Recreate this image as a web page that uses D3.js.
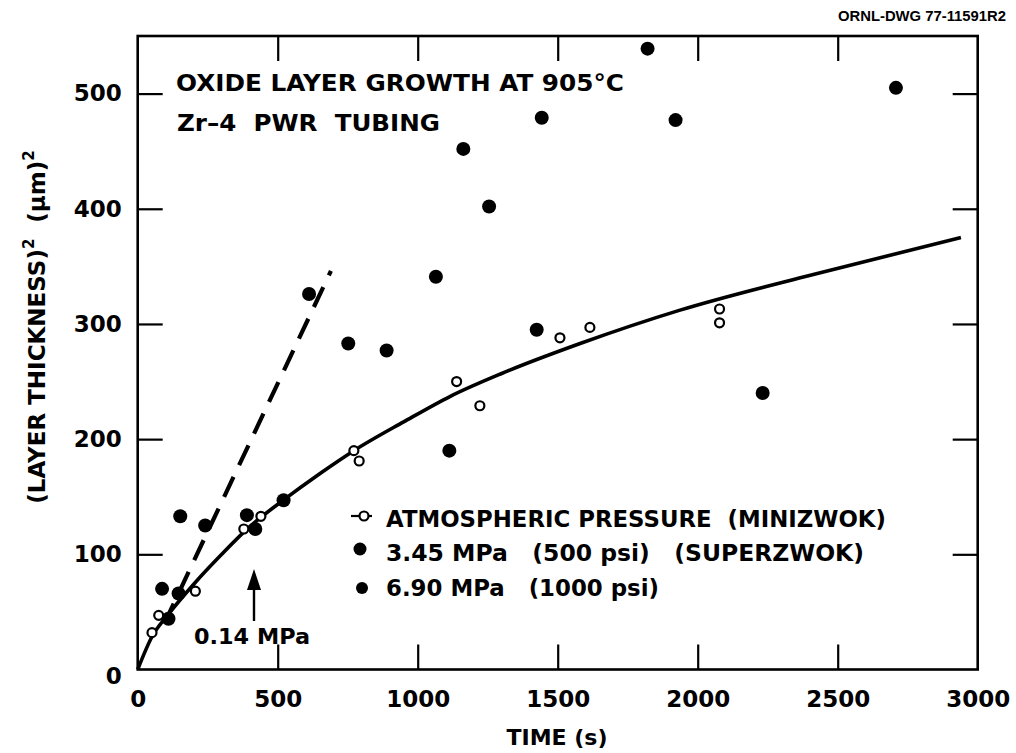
<!DOCTYPE html>
<html><head><meta charset="utf-8">
<script src="https://cdn.jsdelivr.net/npm/d3@7/dist/d3.min.js"></script>
<style>
html,body{margin:0;padding:0;background:#fff;}
svg text{font-family:"DejaVu Sans",sans-serif;font-weight:bold;fill:#000;}
</style></head>
<body><svg id="chart" width="1016" height="753"></svg>
<script>
// ---- data ----
const xTicks = [0, 500, 1000, 1500, 2000, 2500, 3000];
const yTicks = [0, 100, 200, 300, 400, 500];
// atmospheric pressure (MINIZWOK) — open circles: [time s, (thickness)^2 µm^2]
const atmosphericPoints = [
  [51, 32], [75, 47], [206, 68], [379, 122], [440, 133], [772, 190], [791, 181],
  [1139, 250], [1222, 229], [1508, 288], [1615, 297], [2078, 313], [2078, 301]
];
// 3.45 / 6.90 MPa (SUPERZWOK) — filled circles
const pressurizedPoints = [
  [87, 70], [110, 44], [146, 66], [152, 133], [241, 125], [390, 134], [420, 122],
  [521, 147], [612, 326], [752, 283], [889, 277], [1065, 341], [1113, 190],
  [1163, 452], [1255, 402], [1425, 295], [1443, 479], [1821, 539], [1921, 477],
  [2232, 240], [2708, 505]
];
// fitted solid curve (atmospheric)
const fitCurve = [
  [0, 0], [50, 28], [110, 48], [200, 74], [300, 100], [400, 124], [520, 147],
  [650, 170], [772, 190], [950, 215], [1115, 237], [1300, 257], [1580, 283],
  [1937, 312], [2413, 343], [2940, 375]
];
// dashed line (0.14 MPa trend)
const dashedLine = [[95, 40], [690, 346]];
const legendLabels = [
  "ATMOSPHERIC PRESSURE  (MINIZWOK)",
  "3.45 MPa   (500 psi)   (SUPERZWOK)",
  "6.90 MPa   (1000 psi)"
];

// ---- layout ----
const svg = d3.select("#chart");
const L = 137.7, R = 977.7, T = 36, B = 669.5;
const x = d3.scaleLinear().domain([0, 3000]).range([L, R]);
const y = d3.scaleLinear().domain([0, 550]).range([B, T]);
const tickLen = 25;

// axes (ticks inward on all four sides)
const gB = svg.append("g").attr("transform", `translate(0,${B})`)
  .call(d3.axisBottom(x).tickValues(xTicks).tickSize(-tickLen).tickPadding(21).tickFormat(d3.format("d")));
const gT = svg.append("g").attr("transform", `translate(0,${T})`)
  .call(d3.axisTop(x).tickValues(xTicks).tickSize(-tickLen).tickFormat(""));
const gL = svg.append("g").attr("transform", `translate(${L},0)`)
  .call(d3.axisLeft(y).tickValues(yTicks).tickSize(-tickLen).tickPadding(16).tickFormat(d3.format("d")));
const gR = svg.append("g").attr("transform", `translate(${R},0)`)
  .call(d3.axisRight(y).tickValues(yTicks).tickSize(-tickLen).tickFormat(""));
[gB, gT, gL, gR].forEach(g => {
  g.select(".domain").remove();
  g.selectAll(".tick line").attr("stroke", "#000").attr("stroke-width", 2.2);
  g.selectAll(".tick text").attr("font-size", 23).attr("fill", "#000")
    .style("font-family", '"DejaVu Sans",sans-serif').style("font-weight", "bold");
});
// no tick marks at the corners
gB.selectAll(".tick").filter(d => d === 0 || d === 3000).select("line").remove();
gT.selectAll(".tick").filter(d => d === 0 || d === 3000).remove();
gL.selectAll(".tick").filter(d => d === 0).select("line").remove();
gR.selectAll(".tick").filter(d => d === 0).remove();
gL.selectAll(".tick").filter(d => d === 0).select("text").attr("dy", "0.62em");

// frame
svg.append("rect").attr("x", L).attr("y", T).attr("width", R - L).attr("height", B - T)
  .attr("fill", "none").attr("stroke", "#000").attr("stroke-width", 2.6);

// solid fit curve
const line = d3.line().x(d => x(d[0])).y(d => y(d[1])).curve(d3.curveMonotoneX);
svg.append("path").datum(fitCurve).attr("d", line)
  .attr("fill", "none").attr("stroke", "#000").attr("stroke-width", 3.6);

// dashed line
svg.append("path").datum(dashedLine).attr("d", d3.line().x(d => x(d[0])).y(d => y(d[1])))
  .attr("fill", "none").attr("stroke", "#000").attr("stroke-width", 4.2)
  .attr("stroke-dasharray", "22,13");

// filled points
svg.append("g").selectAll("circle").data(pressurizedPoints).join("circle")
  .attr("cx", d => x(d[0])).attr("cy", d => y(d[1])).attr("r", 7).attr("fill", "#000");

// open points
svg.append("g").selectAll("circle").data(atmosphericPoints).join("circle")
  .attr("cx", d => x(d[0])).attr("cy", d => y(d[1])).attr("r", 4.5)
  .attr("fill", "#fff").attr("stroke", "#000").attr("stroke-width", 2.2);

// titles inside plot
svg.append("text").attr("x", 176).attr("y", 91).attr("font-size", 23)
  .attr("textLength", 448).attr("lengthAdjust", "spacingAndGlyphs")
  .text("OXIDE LAYER GROWTH AT 905°C");
svg.append("text").attr("x", 177).attr("y", 131).attr("font-size", 23)
  .style("white-space", "pre")
  .attr("textLength", 263).attr("lengthAdjust", "spacingAndGlyphs")
  .text("Zr–4  PWR  TUBING");

// legend
const legY = [527, 561, 596];
const legW = [500, 478, 273];
legendLabels.forEach((t, i) => {
  svg.append("text").attr("x", 386).attr("y", legY[i]).attr("font-size", 23)
    .style("white-space", "pre")
    .attr("textLength", legW[i]).attr("lengthAdjust", "spacingAndGlyphs").text(t);
});
svg.append("line").attr("x1", 351).attr("x2", 372).attr("y1", legY[0] - 11).attr("y2", legY[0] - 11)
  .attr("stroke", "#000").attr("stroke-width", 2.2);
svg.append("circle").attr("cx", 364).attr("cy", legY[0] - 11).attr("r", 4.5)
  .attr("fill", "#fff").attr("stroke", "#000").attr("stroke-width", 2.2);
svg.append("circle").attr("cx", 360).attr("cy", legY[1] - 12).attr("r", 6.5).attr("fill", "#000");
svg.append("circle").attr("cx", 362).attr("cy", legY[2] - 8).attr("r", 6).attr("fill", "#000");

// 0.14 MPa annotation with arrow
svg.append("text").attr("x", 194).attr("y", 644).attr("font-size", 22)
  .attr("textLength", 116).attr("lengthAdjust", "spacingAndGlyphs").text("0.14 MPa");
svg.append("line").attr("x1", 254).attr("x2", 254).attr("y1", 621).attr("y2", 585)
  .attr("stroke", "#000").attr("stroke-width", 2.4);
svg.append("path").attr("d", "M254,569 L247,590 L261,590 Z").attr("fill", "#000");

// drawing number
svg.append("text").attr("x", 838).attr("y", 21).attr("font-size", 14)
  .style("font-family", '"Liberation Sans",sans-serif')
  .attr("textLength", 168).attr("lengthAdjust", "spacingAndGlyphs").text("ORNL-DWG 77-11591R2");

// axis titles
svg.append("text").attr("x", 557).attr("y", 745).attr("text-anchor", "middle").attr("font-size", 22)
  .text("TIME (s)");
const yl = svg.append("text").attr("transform", "translate(45,327) rotate(-90)")
  .attr("text-anchor", "middle").attr("font-size", 23).style("white-space", "pre");
yl.append("tspan").text("(LAYER THICKNESS)");
yl.append("tspan").attr("dy", -11).attr("font-size", 15).text("2");
yl.append("tspan").attr("dy", 11).text("  (μm)");
yl.append("tspan").attr("dy", -11).attr("font-size", 15).text("2");
</script></body></html>
